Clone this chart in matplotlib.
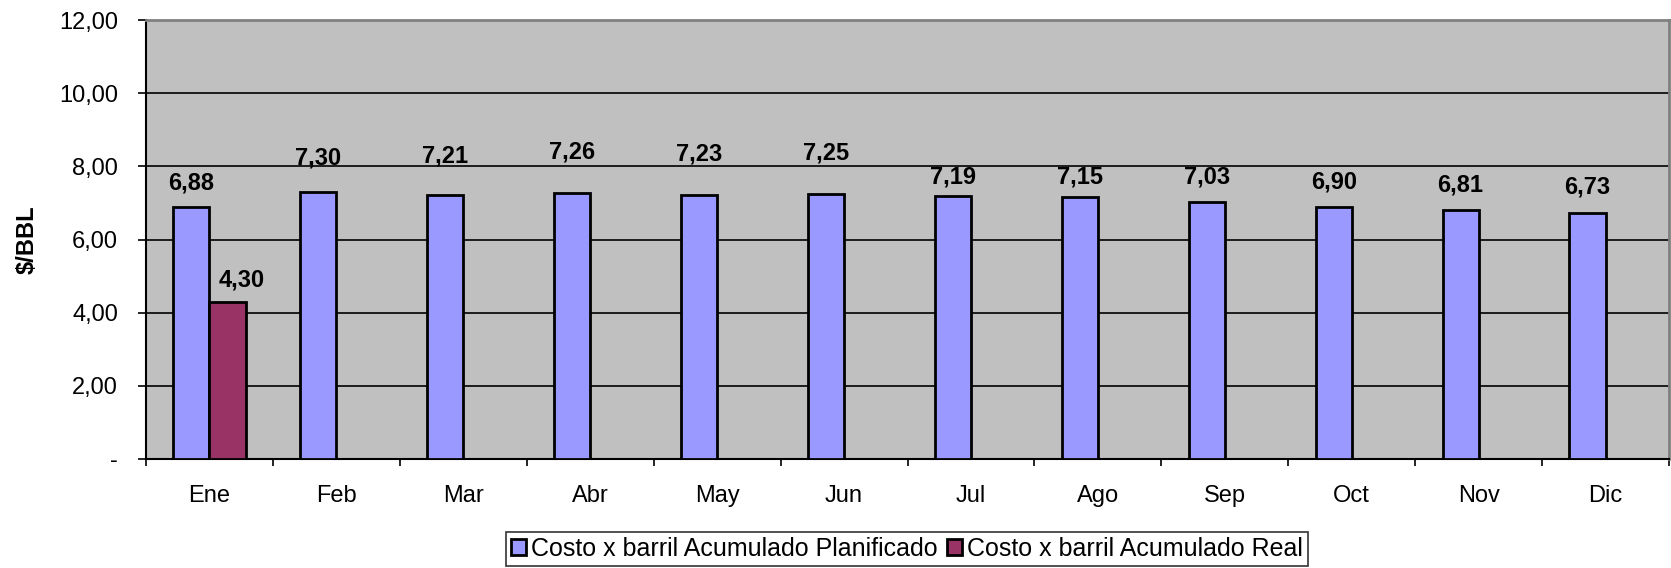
import matplotlib
matplotlib.use("Agg")
import matplotlib.pyplot as plt
import numpy as np

# data
meses = ["Ene", "Feb", "Mar", "Abr", "May", "Jun", "Jul", "Ago", "Sep", "Oct", "Nov", "Dic"]
planificado = [6.88, 7.30, 7.21, 7.26, 7.23, 7.25, 7.19, 7.15, 7.03, 6.90, 6.81, 6.73]
real = [4.30]  # solo Ene
yticks = [0, 2, 4, 6, 8, 10, 12]
ytick_labels = ["-", "2,00", "4,00", "6,00", "8,00", "10,00", "12,00"]

# label offsets above the bar top (pixels), as excel placed them
off_plan = [18, 27, 33, 35, 34, 34, 12, 14, 18, 18, 18, 19]
off_real = [15]

# style
c_plan = "#9999FF"
c_real = "#993366"
c_bg = "#C0C0C0"
bar_w = 0.284
fs = 17

plt.rcParams["font.family"] = ["Liberation Sans", "DejaVu Sans"]

fig = plt.figure(figsize=(16.71, 5.68), dpi=100)
ax = fig.add_axes([146 / 1671, 1 - 459 / 568, (1669 - 146) / 1671, (459 - 20) / 568])
ax.set_facecolor(c_bg)

x = np.arange(len(meses))
b1 = ax.bar(x - bar_w / 2, planificado, bar_w, color=c_plan, edgecolor="black", linewidth=2,
            label="Costo x barril Acumulado Planificado", zorder=3)
xr = x[:len(real)]
b2 = ax.bar(xr + bar_w / 2, real, bar_w, color=c_real, edgecolor="black", linewidth=2,
            label="Costo x barril Acumulado Real", zorder=3)

for xi, v, o in zip(x, planificado, off_plan):
    ax.annotate(f"{v:.2f}".replace(".", ","), (xi - bar_w / 2, v), xytext=(0, o),
                textcoords="offset pixels", ha="center", va="baseline",
                fontsize=fs, fontweight="bold")
for xi, v, o in zip(xr, real, off_real):
    ax.annotate(f"{v:.2f}".replace(".", ","), (xi + bar_w / 2, v), xytext=(14, o),
                textcoords="offset pixels", ha="center", va="baseline",
                fontsize=fs, fontweight="bold")

ax.set_xlim(-0.5, len(meses) - 0.5)
ax.set_ylim(0, 12)
ax.set_yticks(yticks)
ax.set_yticklabels(ytick_labels, fontsize=fs)
ax.set_xticks(np.arange(len(meses) + 1) - 0.5)
ax.set_xticklabels([])
ax.set_xticks(x, minor=True)
ax.set_xticklabels(meses, minor=True, fontsize=fs)
ax.tick_params(axis="x", which="minor", length=0, pad=19)
ax.tick_params(axis="x", which="major", length=5.3, width=1.2, direction="out")
ax.tick_params(axis="y", length=5.5, width=1.2, direction="out", pad=14.5)

ax.grid(axis="y", color="black", linewidth=1.2, zorder=0)
for s in ["left", "bottom"]:
    ax.spines[s].set_color("black")
    ax.spines[s].set_linewidth(1.5)
for s in ["top", "right"]:
    ax.spines[s].set_color("#808080")
    ax.spines[s].set_linewidth(2)

ax.set_ylabel("$/BBL", fontsize=fs, fontweight="bold")
ax.yaxis.set_label_coords((39 - 146) / 1523, 0.5)

leg = fig.legend(handles=[b1, b2], loc="center", bbox_to_anchor=(907 / 1671, 1 - 549 / 568),
                 ncol=2, fontsize=18, frameon=True, fancybox=False, edgecolor="black",
                 handlelength=0.6, handleheight=0.6, handletextpad=0.2, columnspacing=0.4,
                 borderpad=0.2, borderaxespad=0)
leg.get_frame().set_linewidth(1.2)

fig.savefig("out.png", dpi=100)
